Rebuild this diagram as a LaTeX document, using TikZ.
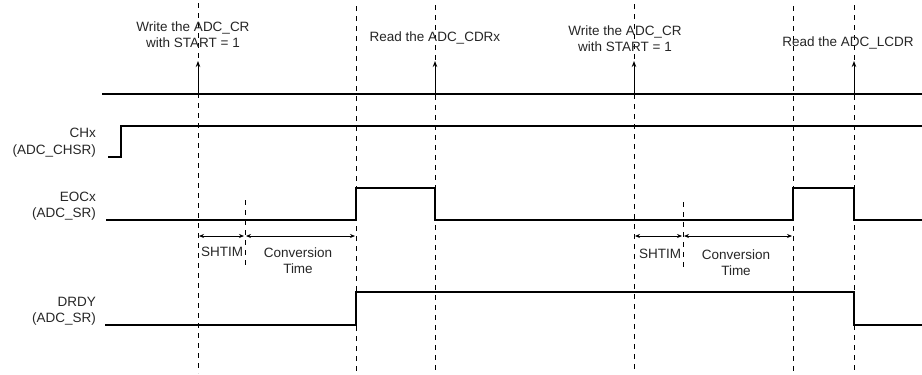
\documentclass[tikz,border=0pt]{standalone}
\usepackage{fontspec}
\setmainfont{Liberation Sans}
\usetikzlibrary{arrows.meta}
\begin{document}
\begin{tikzpicture}[x=1pt,y=-1pt,
  sig/.style={line width=1.4pt, line join=miter},
  guide/.style={line width=0.7pt, dash pattern=on 5pt off 5pt},
  evt/.style={line width=0.9pt, -{Stealth[length=6pt,width=4.5pt]}},
  span/.style={line width=0.8pt, {Stealth[length=5pt,width=4pt]}-{Stealth[length=5pt,width=4pt]}},
  lbl/.style={font=\fontsize{13.5}{16}\selectfont, text=black!85, inner sep=0pt, align=center},
  sname/.style={lbl, anchor=east},
]
\useasboundingbox (0,0) rectangle (922,375);

% guide coordinates
\foreach \n/\x/\t in {ga/198/3, gb/356/6, gc/435/5, gd/634/4, ge/793/6, gf/854/5}{
  \coordinate (\n-t) at (\x,\t);
  \coordinate (\n-b) at (\x,373);
}
\coordinate (sa-t) at (245,200); \coordinate (sa-b) at (245,265);
\coordinate (sb-t) at (683,202); \coordinate (sb-b) at (683,268);

% bus line
\coordinate (busL) at (102,94);
\coordinate (busR) at (922,94);
\draw[sig] (busL) -- (busR);

% event arrows
\foreach \n/\x in {ea/198, eb/435, ec/634, ed/854}{
  \coordinate (\n-s) at (\x,94);
  \coordinate (\n-e) at (\x,61);
  \draw[evt] (\n-s) -- (\n-e);
}

% signals
\draw[sig] (108,157) -- (121,157) -- (121,126) -- (922,126);
\draw[sig] (106,220) -- (356,220) -- (356,188) -- (435,188) -- (435,220)
  -- (793,220) -- (793,188) -- (854,188) -- (854,220) -- (922,220);
\draw[sig] (105,325) -- (356,325) -- (356,292) -- (854,292) -- (854,325) -- (922,325);

% dashed guides
\foreach \n in {ga,gb,gc,gd,ge,gf,sa,sb}{
  \draw[guide] (\n-t) -- (\n-b);
}

% spans
\coordinate (p1) at (199,236); \coordinate (p2) at (244,236);
\coordinate (p3) at (246,236); \coordinate (p4) at (355,236);
\coordinate (q1) at (635,236); \coordinate (q2) at (682,236);
\coordinate (q3) at (684,236); \coordinate (q4) at (792,236);
\draw[span] (p1) -- (p2);
\draw[span] (p3) -- (p4);
\draw[span] (q1) -- (q2);
\draw[span] (q3) -- (q4);

% labels
\node[lbl] (w1) at (193,35) {Write the ADC\_CR\\with START = 1};
\node[lbl] (r1) at (435,38) {Read the ADC\_CDRx};
\node[lbl] (w2) at (625,39) {Write the ADC\_CR\\with START = 1};
\node[lbl] (r2) at (848,43) {Read the ADC\_LCDR};

\node[lbl] (sh1) at (222,252) {SHTIM};
\node[lbl] (cv1) at (298,261) {Conversion\\Time};
\node[lbl] (sh2) at (660,254) {SHTIM};
\node[lbl] (cv2) at (736,263) {Conversion\\Time};

\node[sname] (n1a) at (96,133) {CHx};
\node[sname] (n1b) at (96,151) {(ADC\_CHSR)};
\node[sname] (n2a) at (96,197) {EOCx};
\node[sname] (n2b) at (96,214) {(ADC\_SR)};
\node[sname] (n3a) at (96,302) {DRDY};
\node[sname] (n3b) at (96,319) {(ADC\_SR)};
\end{tikzpicture}
\end{document}
